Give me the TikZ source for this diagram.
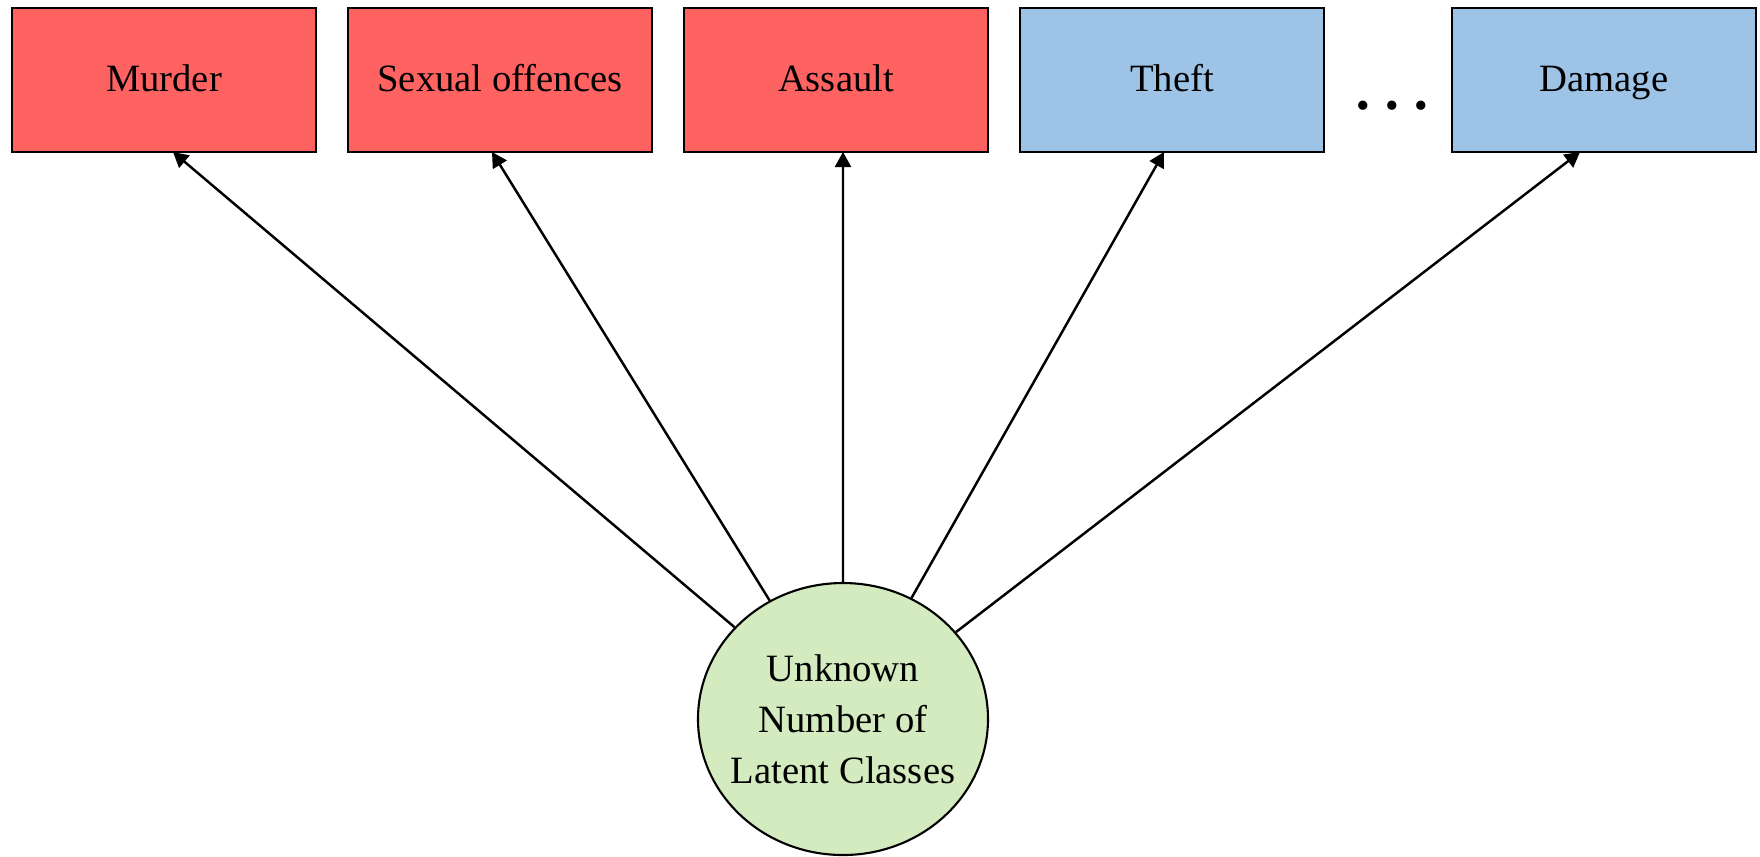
\documentclass[tikz,border=0pt]{standalone}
\usepackage{fontspec}
\setmainfont{Liberation Serif}
\usetikzlibrary{positioning,arrows.meta,shapes.geometric}

\definecolor{violent}{HTML}{FF6361}
\definecolor{property}{HTML}{9DC3E6}
\definecolor{latentgreen}{HTML}{D4EABF}

\tikzset{
	crimebox/.style={draw,line width=0.6pt,outer sep=0pt,minimum width=3.04cm,minimum height=1.44cm,inner sep=0pt,text height=9pt,text depth=2.2pt,font=\fontsize{11}{14}\selectfont},
	latent/.style={ellipse,draw,line width=0.6pt,fill=latentgreen,minimum width=2.9cm,minimum height=2.72cm,inner xsep=-0.3cm,inner ysep=-0.3cm,align=center,font=\fontsize{11}{14.5}\selectfont},
	effect/.style={line width=0.7pt,-{Triangle[length=1.5mm,width=1.6mm]}}
}

\begin{document}
\begin{tikzpicture}
	\useasboundingbox (0,0) rectangle (17.6,-8.56);
	%% crime types
	\node[crimebox,fill=violent] (murder) at (1.64,-0.80) {Murder};
	\node[crimebox,fill=violent,right=0.32 of murder] (sexual) {Sexual offences};
	\node[crimebox,fill=violent,right=0.32 of sexual] (assault) {Assault};
	\node[crimebox,fill=property,right=0.32 of assault] (theft) {Theft};
	\node[crimebox,fill=property,right=1.28 of theft] (damage) {Damage};
	\node[inner sep=0pt] (dots) at (13.92,-1.10) {\fontsize{11}{11}\selectfont\textbullet\hspace{4.4pt}\textbullet\hspace{4.4pt}\textbullet};
	%% latent classes
	\node[latent] (classes) at (8.43,-7.19) {Unknown\\Number of\\Latent Classes};
	% arrow ends on the box edges
	\coordinate (m1) at ([xshift=0.09cm]murder.south);
	\coordinate (s1) at ([xshift=-0.08cm]sexual.south);
	\coordinate (a1) at ([xshift=0.07cm]assault.south);
	\coordinate (t1) at ([xshift=-0.08cm]theft.south);
	\coordinate (d1) at ([xshift=-0.24cm]damage.south);
	\foreach \e in {m1,s1,a1,t1,d1}
		\draw[effect] (classes) -- (\e);
\end{tikzpicture}
\end{document}
